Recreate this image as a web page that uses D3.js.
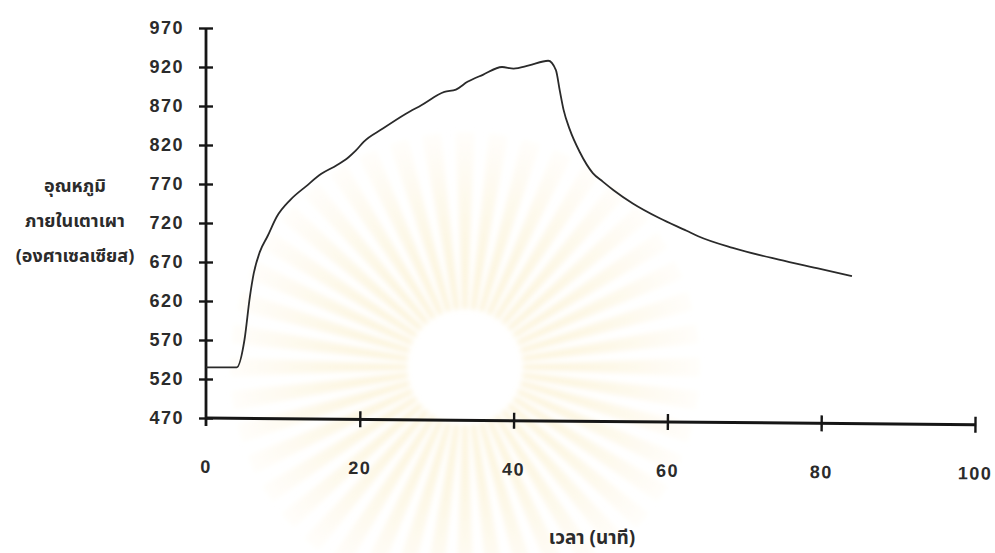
<!DOCTYPE html>
<html>
  <head>
    <meta charset="utf-8">
    <title>furnace temperature</title>
    <style>
      body { margin: 0; background: #fff; }
      text { font-family: "Liberation Sans", Arial, sans-serif; fill: #2b2b2b; }
      .thai { font-family: "Noto Sans Thai", Loma, Garuda, "Noto Sans", sans-serif; font-weight: bold; }
    </style>
  </head>
  <body>
    <script src="https://cdn.jsdelivr.net/npm/d3@7"></script>
    <script type="text/javascript">
      // time (minutes) and temperature (deg C)
      var timeMin = [0, 4, 5, 5.7, 6.2, 7, 8, 9.2, 11, 13, 15, 17, 18.5, 19.5, 20.5, 23, 26, 28, 31, 32.5,
                     34, 36, 38.5, 40, 42, 44.5, 45.5, 46, 46.5, 47.3, 48.6, 50.3, 51.6, 53, 55.5, 59, 62.5, 64, 68.5, 74.5,
                     80, 84];
      var tempC = [535, 535, 570, 625, 655, 683, 703, 728, 750, 767, 783, 794, 804, 813, 824, 841, 860, 871, 888, 891,
                   901, 910, 920, 918, 922, 928, 916, 890, 865, 840, 811, 784, 773, 762, 745, 726, 710, 703, 688, 673,
                   661, 652];
      var xTicks = [0, 20, 40, 60, 80, 100];
      var yTicks = [470, 520, 570, 620, 670, 720, 770, 820, 870, 920, 970];
      var yTitle = ["อุณหภูมิ", "ภายในเตาเผา", "(องศาเซลเซียส)"];
      var xTitle = "เวลา (นาที)";

      var width = 995;
      var height = 553;
      var svg = d3.select("body")
                  .append("svg")
                  .attr("width", width)
                  .attr("height", height);

      var x = d3.scaleLinear().domain([0, 100]).range([206, 975]);
      var y = d3.scaleLinear().domain([470, 970]).range([418, 28]);

      // faint university watermark behind the chart
      var defs = svg.append("defs");
      var grad = defs.append("radialGradient")
                     .attr("id", "ray").attr("gradientUnits", "userSpaceOnUse")
                     .attr("cx", 0).attr("cy", 0).attr("r", 240);
      grad.append("stop").attr("offset", "0.2").attr("stop-color", "#f8e3a6");
      grad.append("stop").attr("offset", "0.6").attr("stop-color", "#fbefcc");
      grad.append("stop").attr("offset", "1").attr("stop-color", "#fffdf7");
      defs.append("filter").attr("id", "soft")
          .append("feGaussianBlur").attr("stdDeviation", 2.5);
      var wm = svg.append("g")
                  .attr("transform", "translate(465,367)")
                  .attr("filter", "url(#soft)");
      var nRays = 44;
      var arc = d3.arc().innerRadius(58).outerRadius(235);
      wm.selectAll("path")
        .data(d3.range(nRays))
        .enter()
        .append("path")
        .attr("d", function(i) {
          var a = i * 2 * Math.PI / nRays;
          return arc({startAngle: a - 0.04, endAngle: a + 0.04});
        })
        .attr("fill", "url(#ray)")
        .attr("opacity", 0.45);

      // y axis
      var yAxis = svg.append("g")
                     .attr("transform", "translate(" + x(0) + ",0)")
                     .call(d3.axisLeft(y).tickValues(yTicks).tickSize(0).tickPadding(22));
      yAxis.select(".domain").remove();
      yAxis.append("line")
           .attr("x1", 0).attr("x2", 0)
           .attr("y1", y(970)).attr("y2", y(470) + 8)
           .attr("stroke", "#161616").attr("stroke-width", 2.8);
      yAxis.selectAll(".tick").append("line")
           .attr("x1", -7).attr("x2", 7)
           .attr("stroke", "#161616").attr("stroke-width", 2.4);
      yAxis.selectAll(".tick text")
           .attr("font-size", 18).attr("font-weight", "bold")
           .attr("letter-spacing", 1.5).attr("font-family", "Liberation Sans, Arial, sans-serif")
           .attr("fill", "#2b2b2b");

      // x axis (the scan is very slightly skewed)
      var xAxis = svg.append("g")
                     .attr("transform", "translate(0," + y(470) + ") rotate(0.5," + x(0) + ",0)")
                     .call(d3.axisBottom(x).tickValues(xTicks).tickSize(0).tickPadding(42));
      xAxis.select(".domain").remove();
      xAxis.append("line")
           .attr("x1", x(0)).attr("x2", x(100))
           .attr("y1", 0).attr("y2", 0)
           .attr("stroke", "#161616").attr("stroke-width", 3);
      xAxis.selectAll(".tick").filter(function(d) { return d > 0; }).append("line")
           .attr("y1", -8).attr("y2", 8)
           .attr("stroke", "#161616").attr("stroke-width", 2.4);
      xAxis.selectAll(".tick text")
           .attr("font-size", 18).attr("font-weight", "bold")
           .attr("letter-spacing", 1.5).attr("font-family", "Liberation Sans, Arial, sans-serif")
           .attr("fill", "#2b2b2b");

      // temperature curve
      var pts = timeMin.map(function(t, i) { return [t, tempC[i]]; });
      var line = d3.line()
                   .x(function(d) { return x(d[0]); })
                   .y(function(d) { return y(d[1]); })
                   .curve(d3.curveMonotoneX);
      svg.append("path")
         .datum(pts)
         .attr("d", line)
         .attr("fill", "none")
         .attr("stroke", "#2a2a2a")
         .attr("stroke-width", 1.8);

      // axis titles
      svg.append("g").selectAll("text")
         .data(yTitle)
         .enter()
         .append("text")
         .attr("class", "thai")
         .attr("x", 75)
         .attr("y", function(d, i) { return 192 + i * 35; })
         .attr("text-anchor", "middle")
         .attr("font-size", 18)
         .text(function(d) { return d; });

      svg.append("text")
         .attr("class", "thai")
         .attr("x", 592)
         .attr("y", 544)
         .attr("text-anchor", "middle")
         .attr("font-size", 19)
         .text(xTitle);
    </script>
  </body>
</html>
